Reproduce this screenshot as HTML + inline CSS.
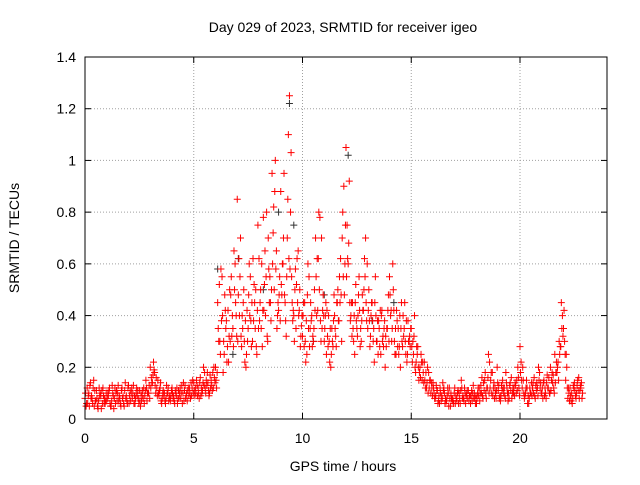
<!DOCTYPE html>
<html><head><meta charset="utf-8"><style>
body{margin:0;background:#fff;width:640px;height:480px;overflow:hidden}
svg{font-family:"Liberation Sans",sans-serif;font-size:14px}
</style></head><body>
<svg id="chart" width="640" height="480">
<text x="343" y="32" text-anchor="middle">Day 029 of 2023, SRMTID for receiver igeo</text>
<text transform="translate(19,238) rotate(-90)" text-anchor="middle">SRMTID / TECUs</text>
<text x="343" y="471" text-anchor="middle">GPS time / hours</text>
<g id="grid"></g>
<g id="ticks"></g>
<g id="marks"></g>
<rect x="85" y="57" width="522" height="362" fill="none" stroke="#000"/>
</svg>
<script>
const xTicks=[0,5,10,15,20];
const yTicks=[0,0.2,0.4,0.6,0.8,1,1.2,1.4];
const yTickLabels=["0","0.2","0.4","0.6","0.8","1","1.2","1.4"];
const seriesOffsets=[0,0.05,0.025,0.075];
const step=0.1;
const seriesA=[0.08,0.12,0.05,0.09,0.15,0.07,0.04,0.10,0.06,0.08,
0.07,0.11,0.05,0.09,0.06,0.10,0.08,0.12,0.05,0.09,
0.13,0.07,0.10,0.06,0.09,0.11,0.07,0.12,0.15,0.10,
0.20,0.14,0.18,0.12,0.09,0.07,0.11,0.06,0.10,0.08,
0.12,0.07,0.09,0.11,0.08,0.10,0.13,0.07,0.12,0.09,
0.14,0.10,0.12,0.16,0.11,0.18,0.13,0.09,0.15,0.12,
0.20,0.45,0.30,0.55,0.25,0.38,0.22,0.48,0.35,0.60,
0.85,0.40,0.28,0.50,0.20,0.35,0.55,0.30,0.45,0.25,
0.62,0.35,0.78,0.40,0.30,0.55,0.95,0.50,0.65,0.42,
0.88,0.60,0.45,0.70,1.25,0.55,0.40,0.35,0.65,0.28,
0.32,0.45,0.25,0.55,0.38,0.30,0.70,0.42,0.78,0.35,
0.30,0.25,0.40,0.20,0.28,0.35,0.45,0.55,0.30,0.90,
1.05,0.60,0.38,0.45,0.25,0.35,0.55,0.30,0.42,0.70,
0.35,0.28,0.45,0.22,0.30,0.38,0.25,0.32,0.20,0.35,
0.55,0.30,0.42,0.25,0.35,0.20,0.28,0.45,0.22,0.30,
0.35,0.25,0.18,0.28,0.20,0.15,0.22,0.12,0.18,0.10,
0.14,0.08,0.11,0.06,0.09,0.12,0.07,0.10,0.05,0.08,
0.12,0.07,0.10,0.15,0.08,0.06,0.11,0.09,0.07,0.10,
0.06,0.09,0.13,0.08,0.18,0.12,0.22,0.10,0.14,0.08,
0.11,0.07,0.15,0.09,0.12,0.08,0.16,0.10,0.13,0.20,
0.28,0.12,0.08,0.15,0.06,0.10,0.14,0.08,0.12,0.18,
0.10,0.15,0.08,0.12,0.20,0.14,0.25,0.18,0.30,0.45,
0.35,0.15,0.08,0.12,0.06,0.14,0.10,0.16,0.12];
const seriesB=[0.05,0.09,0.14,0.06,0.11,0.08,0.12,0.04,0.09,0.07,
0.10,0.06,0.13,0.08,0.11,0.07,0.05,0.09,0.14,0.06,
0.09,0.12,0.06,0.10,0.08,0.05,0.11,0.09,0.07,0.13,
0.16,0.22,0.10,0.15,0.12,0.08,0.10,0.13,0.07,0.09,
0.08,0.11,0.06,0.10,0.13,0.07,0.09,0.12,0.08,0.15,
0.09,0.13,0.08,0.12,0.20,0.10,0.14,0.17,0.11,0.16,
0.12,0.30,0.58,0.18,0.42,0.28,0.50,0.32,0.65,0.40,
0.48,0.70,0.35,0.22,0.42,0.60,0.28,0.38,0.50,0.75,
0.45,0.28,0.52,0.80,0.58,0.38,0.72,1.00,0.40,0.55,
0.48,0.95,0.32,1.10,0.80,0.38,0.50,0.62,0.42,0.36,
0.45,0.22,0.60,0.35,0.28,0.50,0.40,0.80,0.30,0.48,
0.40,0.32,0.22,0.35,0.48,0.28,0.38,0.62,0.80,0.60,
0.75,0.92,0.45,0.30,0.52,0.40,0.28,0.48,0.62,0.38,
0.50,0.40,0.30,0.55,0.38,0.28,0.42,0.35,0.28,0.48,
0.40,0.60,0.25,0.38,0.28,0.45,0.32,0.25,0.38,0.28,
0.22,0.40,0.28,0.15,0.25,0.18,0.12,0.20,0.15,0.12,
0.10,0.13,0.07,0.10,0.14,0.06,0.09,0.12,0.08,0.06,
0.09,0.11,0.06,0.08,0.12,0.10,0.07,0.09,0.13,0.06,
0.10,0.07,0.16,0.11,0.08,0.25,0.15,0.09,0.12,0.20,
0.08,0.13,0.10,0.18,0.07,0.14,0.10,0.09,0.15,0.12,
0.22,0.15,0.10,0.06,0.12,0.09,0.16,0.11,0.20,0.14,
0.08,0.12,0.17,0.10,0.15,0.12,0.18,0.22,0.28,0.40,
0.30,0.20,0.10,0.07,0.13,0.09,0.15,0.11,0.08];
const seriesC=[0.10,0.06,0.13,0.08,0.05,0.11,0.07,0.09,0.12,0.06,
0.08,0.12,0.07,0.04,0.10,0.13,0.06,0.08,0.11,0.07,
0.06,0.10,0.13,0.08,0.11,0.07,0.09,0.06,0.12,0.10,
0.12,0.17,0.13,0.09,0.11,0.06,0.09,0.08,0.12,0.07,
0.10,0.06,0.12,0.08,0.10,0.14,0.08,0.11,0.10,0.12,
0.11,0.15,0.10,0.09,0.14,0.12,0.18,0.10,0.13,0.20,
0.15,0.35,0.25,0.40,0.48,0.22,0.32,0.55,0.28,0.45,
0.30,0.55,0.40,0.30,0.25,0.48,0.38,0.62,0.35,0.42,
0.38,0.60,0.42,0.55,0.70,0.45,0.60,0.88,0.35,0.48,
0.52,0.70,0.38,0.85,0.58,0.45,0.30,0.52,0.40,0.32,
0.40,0.30,0.48,0.28,0.40,0.35,0.55,0.62,0.38,0.42,
0.35,0.42,0.30,0.25,0.38,0.32,0.50,0.45,0.70,0.48,
0.55,0.68,0.40,0.35,0.45,0.32,0.42,0.38,0.50,0.45,
0.42,0.32,0.38,0.45,0.30,0.35,0.40,0.28,0.32,0.42,
0.48,0.35,0.30,0.42,0.25,0.35,0.40,0.30,0.25,0.32,
0.28,0.32,0.22,0.20,0.16,0.22,0.15,0.14,0.12,0.14,
0.12,0.09,0.06,0.12,0.08,0.10,0.07,0.05,0.10,0.07,
0.06,0.10,0.08,0.12,0.07,0.09,0.11,0.06,0.10,0.08,
0.08,0.12,0.10,0.14,0.10,0.16,0.12,0.18,0.08,0.11,
0.13,0.09,0.12,0.08,0.10,0.13,0.08,0.12,0.10,0.16,
0.18,0.20,0.09,0.12,0.08,0.14,0.10,0.13,0.09,0.12,
0.12,0.09,0.14,0.16,0.11,0.17,0.14,0.20,0.25,0.35,
0.42,0.25,0.12,0.09,0.08,0.11,0.13,0.08,0.14];
const seriesD=[0.06,0.10,0.08,0.12,0.07,0.05,0.09,0.11,0.06,0.10,
0.09,0.05,0.10,0.12,0.07,0.09,0.11,0.06,0.08,0.12,
0.11,0.08,0.09,0.12,0.06,0.10,0.08,0.11,0.10,0.08,
0.14,0.19,0.16,0.10,0.14,0.10,0.07,0.10,0.09,0.11,
0.09,0.10,0.08,0.12,0.06,0.11,0.10,0.09,0.14,0.10,
0.12,0.09,0.14,0.10,0.13,0.15,0.11,0.12,0.18,0.14,
0.18,0.52,0.38,0.30,0.35,0.42,0.30,0.40,0.50,0.32,
0.62,0.32,0.45,0.38,0.30,0.40,0.45,0.52,0.28,0.35,
0.50,0.42,0.65,0.32,0.45,0.50,0.82,0.58,0.45,0.38,
0.60,0.48,0.55,0.62,1.03,0.42,0.58,0.45,0.50,0.40,
0.28,0.38,0.35,0.45,0.32,0.42,0.62,0.50,0.70,0.40,
0.45,0.28,0.35,0.30,0.40,0.45,0.38,0.48,0.55,0.75,
0.62,0.45,0.32,0.40,0.38,0.48,0.35,0.42,0.55,0.60,
0.38,0.45,0.35,0.40,0.25,0.42,0.30,0.38,0.35,0.30,
0.42,0.50,0.35,0.28,0.40,0.30,0.35,0.38,0.30,0.35,
0.30,0.20,0.25,0.18,0.22,0.14,0.18,0.10,0.15,0.09,
0.08,0.11,0.09,0.07,0.11,0.08,0.12,0.08,0.07,0.10,
0.08,0.06,0.11,0.09,0.10,0.08,0.09,0.11,0.08,0.09,
0.12,0.10,0.09,0.15,0.12,0.10,0.18,0.12,0.10,0.14,
0.09,0.11,0.12,0.14,0.10,0.11,0.12,0.14,0.11,0.09,
0.15,0.10,0.12,0.09,0.10,0.12,0.09,0.14,0.15,0.10,
0.14,0.10,0.12,0.10,0.18,0.10,0.22,0.15,0.28,0.32,
0.25,0.12,0.07,0.10,0.12,0.08,0.11,0.13,0.10];
const darkTimes=[6.1,7.05,8.9,9.4,9.6,12.1,11.0,13.2,14.2,6.8,10.5,8.2];
const darkValues=[0.58,0.62,0.80,1.22,0.75,1.02,0.48,0.38,0.45,0.25,0.30,0.50];

const X0=85,X1=607,Y0=419,Y1=57,XMAX=24,YMAX=1.4;
const xs=t=>X0+t/XMAX*(X1-X0);
const ys=v=>Y0-v/YMAX*(Y0-Y1);
const NS="http://www.w3.org/2000/svg";
const grid=document.getElementById('grid'),ticks=document.getElementById('ticks'),marks=document.getElementById('marks');
function mk(tag,attrs,parent){const e=document.createElementNS(NS,tag);for(const k in attrs)e.setAttribute(k,attrs[k]);parent.appendChild(e);return e;}
xTicks.forEach(t=>{
  const x=xs(t);
  if(t>0){const g=mk('line',{x1:x,x2:x,y1:Y0,y2:Y1,stroke:'#a0a0a0','stroke-dasharray':'1,2'},grid);
  
  }
  mk('line',{x1:x,x2:x,y1:Y0,y2:Y0-6,stroke:'#000'},ticks);
  mk('line',{x1:x,x2:x,y1:Y1,y2:Y1+6,stroke:'#000'},ticks);
  const l=mk('text',{x:x,y:Y0+24,'text-anchor':'middle'},ticks);l.textContent=t;
  
  
});
yTicks.forEach((v,i)=>{
  const y=ys(v);
  if(v>0&&v<YMAX){const g=mk('line',{x1:X0,x2:X1,y1:y,y2:y,stroke:'#a0a0a0','stroke-dasharray':'1,2'},grid);
  
  }
  mk('line',{x1:X0,x2:X0+6,y1:y,y2:y,stroke:'#000'},ticks);
  mk('line',{x1:X1,x2:X1-6,y1:y,y2:y,stroke:'#000'},ticks);
  const l=mk('text',{x:X0-9,y:y+5,'text-anchor':'end'},ticks);l.textContent=yTickLabels[i];
  
  
});
function plus(t,v,color,name){
  const x=xs(t),y=ys(v);
  const p=mk('path',{d:`M${x-3.5},${y}h7M${x},${y-3.5}v7`,stroke:color,'stroke-width':1,fill:'none'},marks);
  
  
}
darkTimes.forEach((t,i)=>plus(t,darkValues[i],'#333','dark-point'));
[seriesA,seriesB,seriesC,seriesD].forEach((s,k)=>{
  s.forEach((v,i)=>plus(seriesOffsets[k]+i*step,v,'#f00','srmtid-point'));
});
</script>
</body></html>
